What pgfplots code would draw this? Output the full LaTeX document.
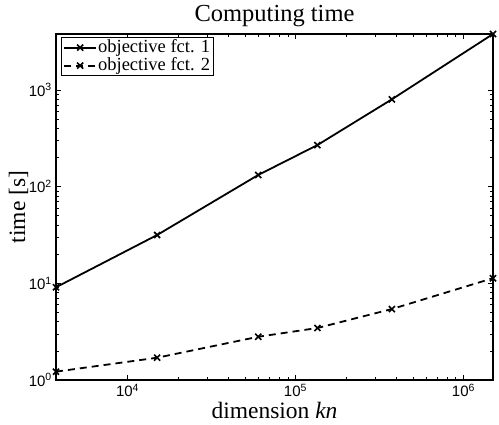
\documentclass[border=0pt]{standalone}
\usepackage{fontspec}
\setmainfont{Liberation Serif}
\newfontfamily\helv{Liberation Sans}
\usepackage{pgfplots}
\pgfplotsset{compat=1.18}

\newcommand{\tl}[1]{10\textsuperscript{#1}}
\newcommand{\lf}{\fontsize{18.5}{18.5}\selectfont}

\begin{document}
\begin{tikzpicture}[x=1pt,y=1pt]
\begin{axis}[
  at={(56pt,44pt)}, anchor=south west,
  scale only axis,
  width=437pt, height=346pt,
  xmode=log, ymode=log,
  xmin=3750, xmax=1.5e6,
  ymin=1, ymax=3790,
  xtick={1e4,1e5,1e6},
  xticklabels={\tl{4},\tl{5},\tl{6}},
  ytick={1,10,100,1000},
  yticklabels={\tl{0},\tl{1},\tl{2},\tl{3}},
  tick align=inside,
  major tick length=5pt,
  minor tick length=3pt,
  every tick/.style={black, line width=0.6pt},
  axis line style={line width=1.1pt},
  tick label style={font=\helv\fontsize{15}{15}\selectfont, inner sep=1pt},
  xticklabel style={yshift=-3pt},
  yticklabel style={xshift=-3pt},
  title={Computing time},
  title style={font=\fontsize{24.5}{24.5}\selectfont, at={(axis description cs:0.5,1)}, anchor=base, yshift=6pt, inner sep=0pt},
  xlabel={dimension \textit{kn}},
  ylabel={time [s]},
  label style={font=\fontsize{23.5}{23.5}\selectfont, inner sep=0pt},
  xlabel style={at={(axis description cs:0.5,0)}, anchor=base, yshift=-38pt},
  ylabel style={at={(axis description cs:-0.0709,0.5)}, anchor=base},
  legend style={at={(0.011,0.991)}, anchor=north west, draw=black,
    line width=1pt, font=\lf,
    inner xsep=2pt, inner ysep=1pt, row sep=0pt, legend cell align=left,
    nodes={inner sep=1pt, text height=12.5pt, text depth=3.5pt, font=\lf}},
  legend image code/.code={
    \draw[mark repeat=2,mark phase=2,#1] plot coordinates {(0pt,0pt) (16pt,0pt) (32pt,0pt)};},
]
\addplot[black, line width=1.8pt, mark=x, mark size=4.3pt, mark options={solid, line width=1.6pt}]
  coordinates {(3750,9.1) (15000,31.6) (60000,132) (135000,269) (375000,800) (1.5e6,3790)};
\addlegendentry{objective fct. 1\hspace{10pt}}
\addplot[black, dashed, dash pattern=on 7pt off 5pt, line width=1.8pt, mark=x, mark size=4.3pt, mark options={solid, line width=1.6pt}]
  coordinates {(3750,1.22) (15000,1.70) (60000,2.80) (135000,3.45) (375000,5.42) (1.5e6,11.3)};
\addlegendentry{objective fct. 2\hspace{10pt}}
\end{axis}
\pgfresetboundingbox
\path (0,0) rectangle (499pt,424pt);
\end{tikzpicture}
\end{document}
